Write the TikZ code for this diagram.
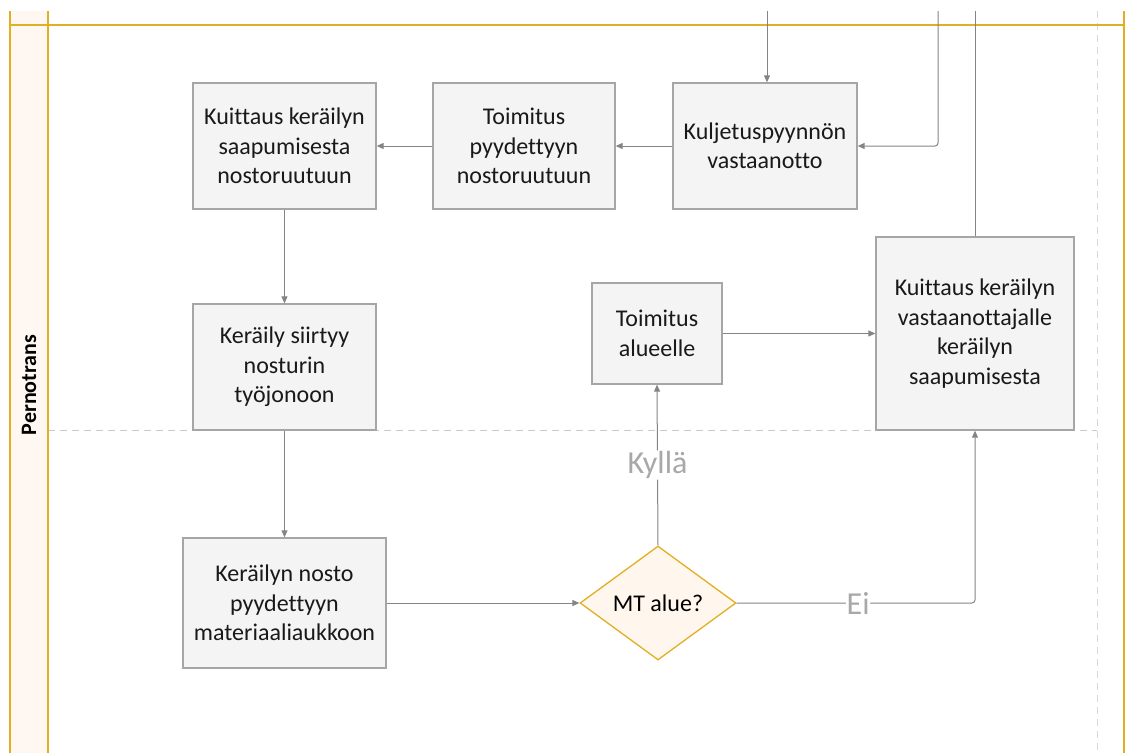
\documentclass[tikz,border=0pt]{standalone}
\usepackage{fontspec}
\setmainfont{Carlito}[Ligatures=NoCommon]
\usetikzlibrary{shapes.geometric,arrows.meta}
\definecolor{lanegold}{HTML}{E2AE22}
\definecolor{lanefill}{HTML}{FFF8F2}
\definecolor{boxfill}{HTML}{F4F4F4}
\definecolor{boxline}{HTML}{A6A6A6}
\definecolor{conn}{HTML}{848484}
\definecolor{dfill}{HTML}{FFF7EE}
\definecolor{lbl}{HTML}{A8A8A8}
\begin{document}
\begin{tikzpicture}[x=1pt,y=-1pt,
  procbox/.style={draw=boxline,line width=1.3pt,fill=boxfill,inner sep=0pt,align=center,
    font=\fontsize{24}{29.5}\selectfont,text=black!90},
  conline/.style={draw=conn,line width=1pt,rounded corners=3pt},
  conarrow/.style={conline,-{Triangle[length=7pt,width=6pt]}},
  lbltext/.style={font=\fontsize{32}{36}\selectfont,text=lbl,fill=white,inner sep=1pt}]
\useasboundingbox (0,0) rectangle (1125,753);
% lane
\fill[lanefill] (10,11) rectangle (48,753);
\draw[boxline!60,dashed,line width=0.8pt,dash pattern=on 7pt off 5pt] (48,430) -- (1097,430);
\draw[black!15,dashed,line width=0.8pt,dash pattern=on 7pt off 5pt] (1097,11) -- (1097,753);
\draw[lanegold,line width=1.6pt] (10,11) -- (10,753);
\draw[lanegold,line width=1.6pt] (48,11) -- (48,753);
\draw[lanegold,line width=1.6pt] (10,25) -- (1125,25);
\draw[lanegold,line width=1.6pt] (1124,11) -- (1124,753);
\node[rotate=90,font=\fontsize{22}{26}\selectfont\bfseries] (lane) at (29,385) {Pernotrans};
% boxes
\node[procbox,minimum width=183pt,minimum height=126pt] (kuitt1) at (284.5,146) {Kuittaus keräilyn\\saapumisesta\\nostoruutuun};
\node[procbox,minimum width=182pt,minimum height=126pt] (toim1) at (524,146) {Toimitus\\pyydettyyn\\nostoruutuun};
\node[procbox,minimum width=184pt,minimum height=126pt] (kulj) at (765,146) {Kuljetuspyynnön\\vastaanotto};
\node[procbox,minimum width=183pt,minimum height=126pt] (keray) at (284.5,367) {Keräily siirtyy\\nosturin\\työjonoon};
\node[procbox,minimum width=130pt,minimum height=101pt] (toim2) at (657,333.5) {Toimitus\\alueelle};
\node[procbox,minimum width=198pt,minimum height=193pt] (kuitt2) at (975,333.5) {Kuittaus keräilyn\\vastaanottajalle\\keräilyn\\saapumisesta};
\node[procbox,minimum width=203pt,minimum height=130pt] (nosto) at (284.5,603) {Keräilyn nosto\\pyydettyyn\\materiaaliaukkoon};
\node[diamond,draw=lanegold,line width=1.3pt,fill=dfill,minimum width=156pt,minimum height=114pt,inner sep=0pt,
  font=\fontsize{24}{29.5}\selectfont] (mt) at (658,603) {MT alue?};
% external coordinates
\coordinate (in1) at (767,11);
\coordinate (in2) at (938,11);
\coordinate (out1) at (975,11);
% connectors
\draw[conarrow] (in1) -- (kulj.north -| in1);
\draw[conarrow] (in2) |- (kulj.east);
\draw[conline] (kuitt2.north) -- (out1);
\draw[conarrow] (kulj.west) -- (toim1.east);
\draw[conarrow] (toim1.west) -- (kuitt1.east);
\draw[conarrow] (kuitt1.south) -- (keray.north);
\draw[conarrow] (keray.south) -- (nosto.north);
\draw[conarrow] (nosto.east) -- (mt.west);
\draw[conarrow] (mt.north) -- node[lbltext,pos=0.5] (kylla) {Kyllä} (toim2.south);
\draw[conarrow] (mt.east) -- node[lbltext,pos=0.51,inner sep=0.5pt] (ei) {Ei} (kuitt2.south |- mt.east) -- (kuitt2.south);
\draw[conarrow] (toim2.east) -- (kuitt2.west |- toim2.east);
\end{tikzpicture}
\end{document}
